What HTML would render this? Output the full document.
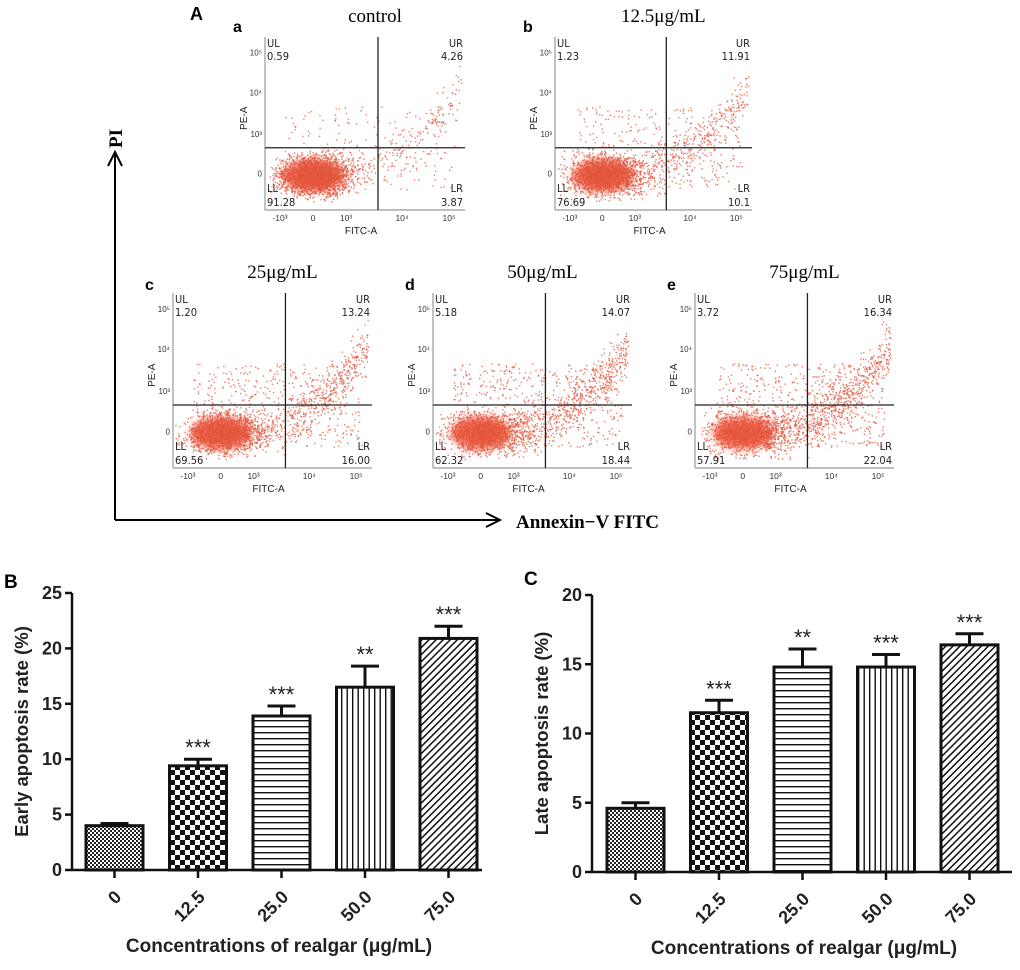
<!DOCTYPE html>
<html><head><meta charset="utf-8">
<style>
html,body{margin:0;padding:0;background:#fff;}
svg{display:block;}
</style></head>
<body>
<svg id="root" width="1020" height="970" viewBox="0 0 1020 970" xmlns="http://www.w3.org/2000/svg" font-family="Liberation Sans, sans-serif">
<defs>
<pattern id="p0" patternUnits="userSpaceOnUse" width="4" height="4"><rect width="4" height="4" fill="#fff"/><rect width="2" height="2" fill="#222"/><rect x="2" y="2" width="2" height="2" fill="#222"/></pattern>
<pattern id="p1" patternUnits="userSpaceOnUse" width="10" height="10"><rect width="10" height="10" fill="#fff"/><rect width="5" height="5" fill="#111"/><rect x="5" y="5" width="5" height="5" fill="#111"/></pattern>
<pattern id="p2" patternUnits="userSpaceOnUse" width="6" height="6"><rect width="6" height="6" fill="#fff"/><rect y="0" width="6" height="1.4" fill="#111"/></pattern>
<pattern id="p3" patternUnits="userSpaceOnUse" width="5.5" height="6"><rect width="6" height="6" fill="#fff"/><rect width="1.4" height="6" fill="#111"/></pattern>
<pattern id="p4" patternUnits="userSpaceOnUse" width="5" height="5" patternTransform="rotate(45)"><rect width="5" height="5" fill="#fff"/><rect width="1.5" height="5" fill="#111"/></pattern>
<filter id="blur" x="-30%" y="-30%" width="160%" height="160%"><feGaussianBlur stdDeviation="4"/></filter>
</defs>
<text x="190" y="20" font-size="18" font-weight="bold">A</text>
<text x="4" y="588" font-size="19" font-weight="bold">B</text>
<text x="524" y="585" font-size="19" font-weight="bold">C</text>
<g id="flow"></g>
<g stroke="#000" stroke-width="2" fill="none">
<line x1="115" y1="520" x2="115" y2="152"/>
<polyline points="108,166 115,152 122,166"/>
<line x1="115" y1="520" x2="500" y2="520"/>
<polyline points="486,513 500,520 486,527"/>
</g>
<text transform="translate(122,148) rotate(-90)" font-family="Liberation Serif, serif" font-weight="bold" font-size="19">PI</text>
<text x="516" y="528" font-family="Liberation Serif, serif" font-weight="bold" font-size="19">Annexin−V FITC</text>
<g id="chartB"></g>
<g id="chartC"></g>
</svg>
<script>
const NS='http://www.w3.org/2000/svg';
function mk(parent,tag,attrs,text){const e=document.createElementNS(NS,tag);for(const k in attrs)e.setAttribute(k,attrs[k]);if(text!==undefined)e.textContent=text;parent.appendChild(e);return e;}

// ---------- Flow cytometry panels ----------
const flowLetters=['a','b','c','d','e'];
const flowTitles=['control','12.5μg/mL','25μg/mL','50μg/mL','75μg/mL'];
const flowUL=['0.59','1.23','1.20','5.18','3.72'];
const flowUR=['4.26','11.91','13.24','14.07','16.34'];
const flowLL=['91.28','76.69','69.56','62.32','57.91'];
const flowLR=['3.87','10.1','16.00','18.44','22.04'];
const flowBoxX=[265,555,173,433,695];
const flowBoxY=[37,37,293,293,293];
const flowW=[200,197,199,199,199];
const flowH=[173,173,175,175,175];
const yTickLabels=['10⁵','10⁴','10³','0'];
const yTickFr=[0.09,0.32,0.56,0.79];
const xTickLabels=['-10³','0','10³','10⁴','10⁵'];
const xTickFr=[0.075,0.24,0.405,0.685,0.92];
const tailAmt=[0.15,0.3,0.38,0.45,0.5];

let seed=7;function rnd(){seed=(seed*16807)%2147483647;return seed/2147483647;}
function gauss(){let s=0;for(let j=0;j<4;j++)s+=rnd();return (s-2)/0.58;}
const flow=document.getElementById('flow');
for(let i=0;i<5;i++){
  const g=mk(flow,'g',{});
  
  
  const x0=flowBoxX[i],y0=flowBoxY[i],w=flowW[i],h=flowH[i];
  const vx=x0+w*0.565,hy=y0+h*0.64;
  mk(g,'ellipse',{cx:x0+0.24*w,cy:y0+0.8*h,rx:w*0.15,ry:h*0.09,fill:'#f46a52',filter:'url(#blur)'});
  const dots=mk(g,'g',{fill:'#e2553c'});
  const n=2600;
  for(let k=0;k<n;k++){
    let fx,fy;
    const r=rnd();
    if(r<1-tailAmt[i]){fx=0.25+gauss()*0.09;fy=0.8+gauss()*0.055;}
    else if(r<1-tailAmt[i]*0.45){const t=rnd();fx=0.35+t*0.63;fy=0.8-t*t*0.5+gauss()*0.07;}
    else {fx=0.1+rnd()*0.85;fy=0.4+rnd()*0.48;}
    if(fx<0.01||fx>0.99||fy<0.08||fy>0.95)continue;
    mk(dots,'rect',{x:(x0+fx*w).toFixed(1),y:(y0+fy*h).toFixed(1),width:1.4,height:1.4,opacity:0.75});
  }
  mk(g,'line',{x1:x0,y1:y0,x2:x0,y2:y0+h,stroke:'#999','stroke-width':1.2});
  mk(g,'line',{x1:x0,y1:y0+h,x2:x0+w,y2:y0+h,stroke:'#999','stroke-width':1.2});
  mk(g,'line',{x1:vx,y1:y0,x2:vx,y2:y0+h,stroke:'#222','stroke-width':1.3});
  mk(g,'line',{x1:x0,y1:hy,x2:x0+w,y2:hy,stroke:'#222','stroke-width':1.3});
  for(let t=0;t<yTickLabels.length;t++){
    mk(g,'text',{x:x0-3,y:y0+yTickFr[t]*h+3,'font-size':8,'text-anchor':'end',fill:'#333'},yTickLabels[t]);
  }
  for(let t=0;t<xTickLabels.length;t++){
    mk(g,'text',{x:x0+xTickFr[t]*w,y:y0+h+11,'font-size':8.5,'text-anchor':'middle',fill:'#333'},xTickLabels[t]);
  }
  mk(g,'text',{x:x0+w*0.48,y:y0+h+24,'font-size':10,'text-anchor':'middle',fill:'#222'},'FITC-A');
  mk(g,'text',{transform:`translate(${x0-18},${y0+h*0.47}) rotate(-90)`,'font-size':10,'text-anchor':'middle',fill:'#222'},'PE-A');
  const lab={'font-size':11,fill:'#222','font-family':'DejaVu Sans Condensed, DejaVu Sans, sans-serif'};
  mk(g,'text',Object.assign({x:x0+2,y:y0+10},lab),'UL');
  mk(g,'text',Object.assign({x:x0+2,y:y0+23},lab),flowUL[i]);
  mk(g,'text',Object.assign({x:x0+w-2,y:y0+10,'text-anchor':'end'},lab),'UR');
  mk(g,'text',Object.assign({x:x0+w-2,y:y0+23,'text-anchor':'end'},lab),flowUR[i]);
  mk(g,'text',Object.assign({x:x0+2,y:y0+h-18},lab),'LL');
  mk(g,'text',Object.assign({x:x0+2,y:y0+h-4},lab),flowLL[i]);
  mk(g,'text',Object.assign({x:x0+w-2,y:y0+h-18,'text-anchor':'end'},lab),'LR');
  mk(g,'text',Object.assign({x:x0+w-2,y:y0+h-4,'text-anchor':'end'},lab),flowLR[i]);
  const tt=mk(g,'text',{x:x0+w*0.55,y:y0-15,'font-size':19,'text-anchor':'middle','font-family':'Liberation Serif, serif'},flowTitles[i]);
  
  
  const lt=mk(g,'text',{x:x0-(i<2?32:28),y:y0-(i<2?5:3),'font-size':16,'font-weight':'bold'},flowLetters[i]);
  
  
}

// ---------- Bar charts ----------
const categories=['0','12.5','25.0','50.0','75.0'];
const earlyValues=[4.0,9.4,13.9,16.5,20.9];
const earlyErr=[0.2,0.6,0.9,1.9,1.1];
const earlyStars=['','***','***','**','***'];
const earlyTicks=[0,5,10,15,20,25];
const lateValues=[4.6,11.5,14.8,14.8,16.4];
const lateErr=[0.4,0.9,1.3,0.9,0.8];
const lateStars=['','***','**','***','***'];
const lateTicks=[0,5,10,15,20];

function barChart(gid,name,cfg){
  const g=document.getElementById(gid);
  
  
  const {ax,y0,yTop,ymax,xStart,step,bw,xEnd,vals,errs,stars,ticks,ylabel}=cfg;
  const ys=v=>y0-(v/ymax)*(y0-yTop);
  const xs=i=>xStart+i*step;
  for(let i=0;i<vals.length;i++){
    const bx=xs(i),top=ys(vals[i]),et=ys(vals[i]+errs[i]);
    const eb=mk(g,'g',{stroke:'#111','stroke-width':3});
    
    
    mk(eb,'line',{x1:bx+bw/2,y1:top,x2:bx+bw/2,y2:et});
    mk(eb,'line',{x1:bx+bw/2-14,y1:et,x2:bx+bw/2+14,y2:et});
    const r=mk(g,'rect',{x:bx,y:top,width:bw,height:y0-top,fill:`url(#p${i})`,stroke:'#111','stroke-width':3});
    
    
    if(stars[i]){
      const s=mk(g,'text',{x:bx+bw/2,y:et-4,'font-size':22,'text-anchor':'middle',fill:'#222'},stars[i]);
      
      
    }
    mk(g,'line',{x1:bx+bw/2,y1:y0,x2:bx+bw/2,y2:y0+8,stroke:'#111','stroke-width':2.5});
    const tl=mk(g,'text',{transform:`translate(${bx+bw/2+8},${y0+28}) rotate(-45)`,'font-size':18,'font-weight':'bold','text-anchor':'end',fill:'#222'},categories[i]);
    
    
  }
  mk(g,'line',{x1:ax,y1:yTop,x2:ax,y2:y0,stroke:'#111','stroke-width':2.5});
  mk(g,'line',{x1:ax,y1:y0,x2:xEnd,y2:y0,stroke:'#111','stroke-width':2.5});
  for(const t of ticks){
    mk(g,'line',{x1:ax-7,y1:ys(t),x2:ax,y2:ys(t),stroke:'#111','stroke-width':2.5});
    const tl=mk(g,'text',{x:ax-10,y:ys(t)+6,'font-size':18,'font-weight':'bold','text-anchor':'end',fill:'#222'},String(t));
    
    
  }
  const yl=mk(g,'text',{transform:`translate(${ax-44},${(y0+yTop)/2}) rotate(-90)`,'font-size':18.5,'font-weight':'bold','text-anchor':'middle',fill:'#222'},ylabel);
  
  
  const xl=mk(g,'text',{x:(ax+xEnd)/2+2,y:y0+82,'font-size':19,'font-weight':'bold','text-anchor':'middle',fill:'#222'},'Concentrations of realgar (μg/mL)');
  
  
}
barChart('chartB','early-apoptosis-chart',{ax:72,y0:870,yTop:593,ymax:25,xStart:86,step:83.5,bw:57,xEnd:482,vals:earlyValues,errs:earlyErr,stars:earlyStars,ticks:earlyTicks,ylabel:'Early apoptosis rate (%)'});
barChart('chartC','late-apoptosis-chart',{ax:592,y0:872,yTop:595,ymax:20,xStart:607,step:83.5,bw:57,xEnd:1012,vals:lateValues,errs:lateErr,stars:lateStars,ticks:lateTicks,ylabel:'Late apoptosis rate (%)'});
</script>
</body></html>
